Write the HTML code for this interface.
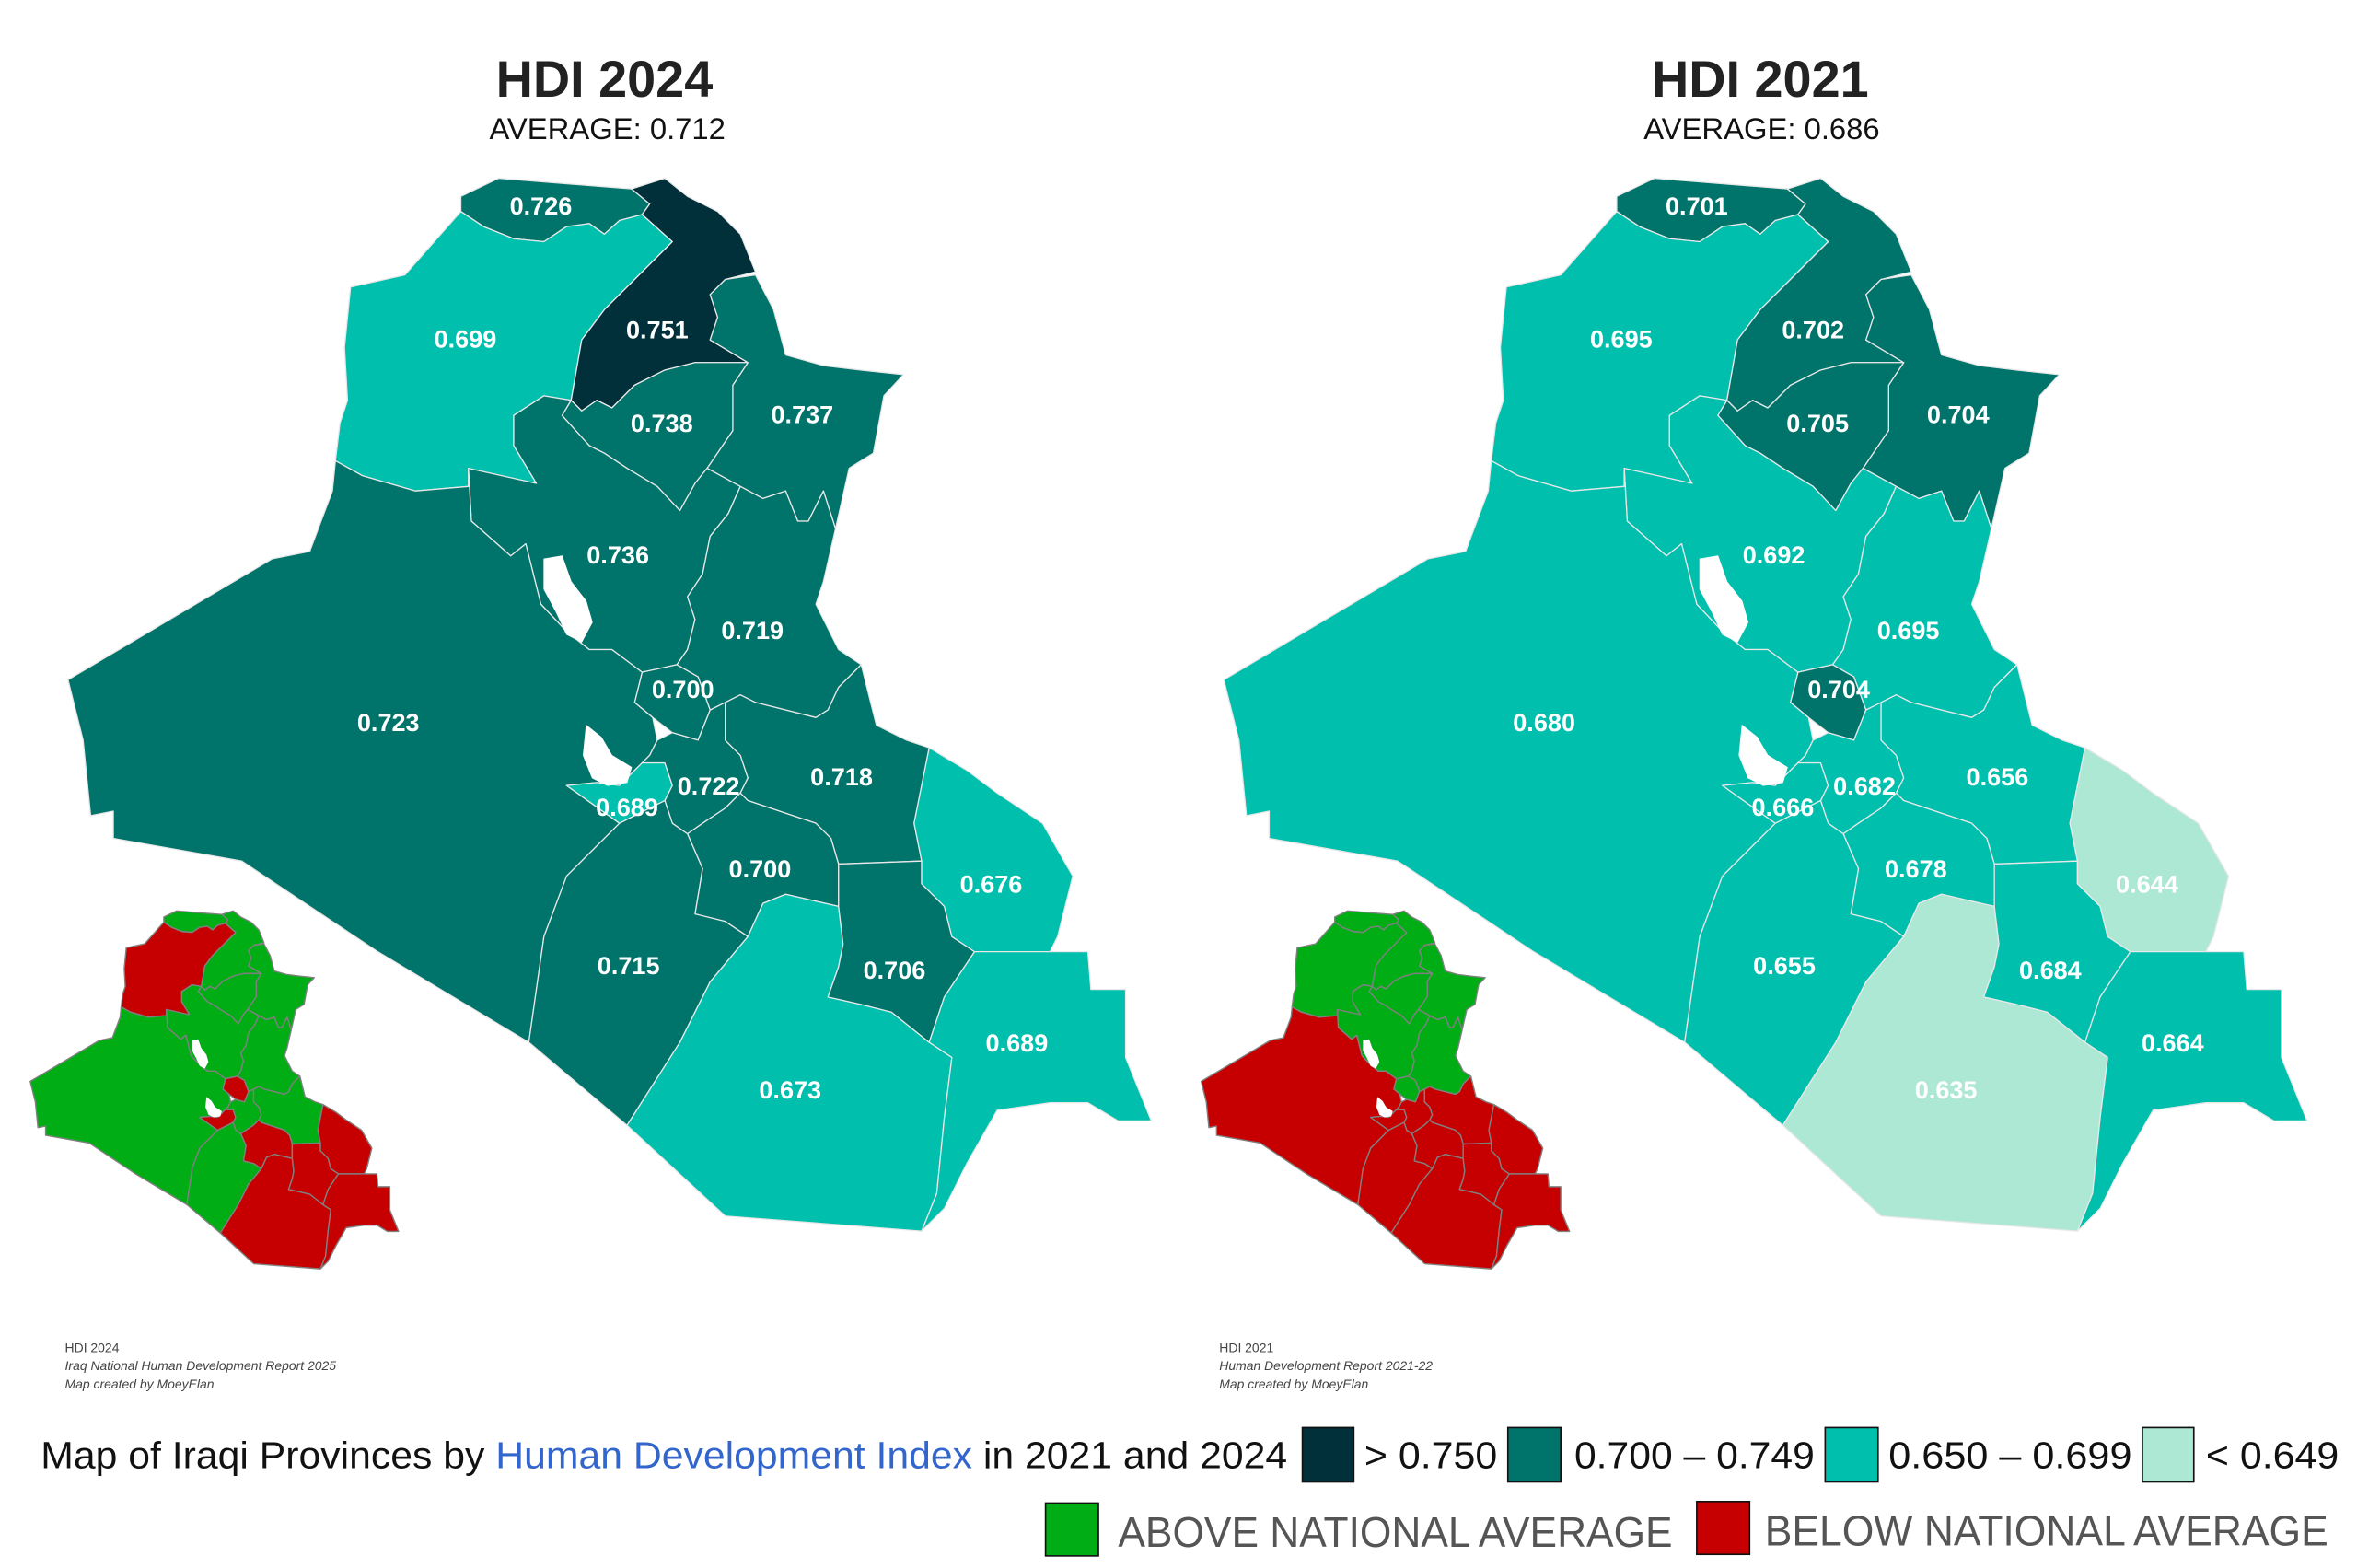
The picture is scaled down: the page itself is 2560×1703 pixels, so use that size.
<!DOCTYPE html>
<html><head><meta charset="utf-8"><title>HDI Iraq</title>
<style>html,body{margin:0;padding:0;background:#fff;}svg{display:block;}</style></head>
<body>
<svg id="chart" xmlns="http://www.w3.org/2000/svg" width="2560" height="1703" viewBox="0 0 1560 1038" preserveAspectRatio="none" font-family="'Liberation Sans', sans-serif">
<rect width="1560" height="1038" fill="#fff"/>
<text x="400" y="64" text-anchor="middle" font-size="34" font-weight="bold" fill="#222">HDI 2024</text>
<text x="402" y="92" text-anchor="middle" font-size="20" fill="#111">AVERAGE: 0.712</text>
<text x="1165" y="64" text-anchor="middle" font-size="34" font-weight="bold" fill="#222">HDI 2021</text>
<text x="1166" y="92" text-anchor="middle" font-size="20" fill="#111">AVERAGE: 0.686</text>
<g id="maps"></g>
<g font-size="8.5" fill="#444">
<text x="43" y="895">HDI 2024</text>
<text x="43" y="907" font-style="italic">Iraq National Human Development Report 2025</text>
<text x="43" y="919" font-style="italic">Map created by MoeyElan</text>
</g>
<g font-size="8.5" fill="#444">
<text x="807" y="895">HDI 2021</text>
<text x="807" y="907" font-style="italic">Human Development Report 2021-22</text>
<text x="807" y="919" font-style="italic">Map created by MoeyElan</text>
</g>
<text x="27" y="972" font-size="25" fill="#111" textLength="825" lengthAdjust="spacingAndGlyphs">Map of Iraqi Provinces by <tspan fill="#3366cc">Human Development Index</tspan> in 2021 and 2024</text>
<g font-size="25" fill="#111">
<rect x="862" y="945" width="34" height="36" fill="#01303a" stroke="#111" stroke-width="1"/>
<text x="903" y="972" textLength="88" lengthAdjust="spacingAndGlyphs">&gt; 0.750</text>
<rect x="998" y="945" width="35" height="36" fill="#00736a" stroke="#111" stroke-width="1"/>
<text x="1042" y="972" textLength="159" lengthAdjust="spacingAndGlyphs">0.700 – 0.749</text>
<rect x="1208" y="945" width="35" height="36" fill="#00bfad" stroke="#111" stroke-width="1"/>
<text x="1250" y="972" textLength="161" lengthAdjust="spacingAndGlyphs">0.650 – 0.699</text>
<rect x="1418" y="945" width="34" height="36" fill="#ade8d4" stroke="#111" stroke-width="1"/>
<text x="1460" y="972" textLength="88" lengthAdjust="spacingAndGlyphs">&lt; 0.649</text>
</g>
<g font-size="28" fill="#555">
<rect x="692" y="995" width="35" height="35" fill="#00ad14" stroke="#111" stroke-width="1"/>
<text x="740" y="1024" textLength="367" lengthAdjust="spacingAndGlyphs">ABOVE NATIONAL AVERAGE</text>
<rect x="1123" y="994" width="35" height="35" fill="#c60000" stroke="#111" stroke-width="1"/>
<text x="1168" y="1023" textLength="373" lengthAdjust="spacingAndGlyphs">BELOW NATIONAL AVERAGE</text>
</g>
</svg>
<script>
const provinces = ["duhok","nineveh","erbil","sulaymaniyah","kirkuk","salahuddin","diyala","baghdad","anbar","karbala","babylon","wasit","qadisiyah","najaf","muthanna","dhi-qar","maysan","basra"];
const hdi2024 = [0.726,0.699,0.751,0.737,0.738,0.736,0.719,0.700,0.723,0.689,0.722,0.718,0.700,0.715,0.673,0.706,0.676,0.689];
const hdi2021 = [0.701,0.695,0.702,0.704,0.705,0.692,0.695,0.704,0.680,0.666,0.682,0.656,0.678,0.655,0.635,0.684,0.644,0.664];
const averages = [0.712,0.686];

const shapes = {
duhok:"305,130 330,118 380,122 418,125 430,135 425,142 410,146 400,155 390,148 375,150 360,160 340,158 320,150 305,140",
nineveh:"305,140 320,150 340,158 360,160 375,150 390,148 400,155 410,146 425,142 445,160 420,185 400,205 385,225 378,265 360,262 340,275 340,295 355,320 310,322 275,325 240,315 222,305 225,280 230,265 228,230 232,190 268,182",
erbil:"418,125 440,118 455,130 475,140 490,155 500,180 480,185 470,195 475,210 470,225 495,240 460,240 440,245 420,255 405,270 395,265 385,272 378,265 385,225 400,205 420,185 445,160 425,142 430,135",
sulaymaniyah:"470,195 480,185 500,182 512,205 520,235 545,242 570,245 598,248 585,262 578,300 562,310 553,350 545,325 535,345 528,345 520,325 505,330 490,322 468,310 485,285 485,255 495,240 470,225 475,210",
kirkuk:"378,265 385,272 395,265 405,270 420,255 440,245 460,240 495,240 485,255 485,285 468,310 460,320 450,338 435,322 415,310 400,300 390,295 372,275",
salahuddin:"310,310 355,320 340,295 340,275 360,262 378,265 372,275 390,295 400,300 415,310 435,322 450,338 460,320 468,310 490,322 482,340 470,355 465,380 455,395 460,410 455,430 448,440 425,445 405,430 390,430 375,418 358,400 348,360 338,368 312,345",
diyala:"490,322 505,330 520,325 528,345 535,345 545,325 553,350 545,385 540,400 555,430 570,440 555,455 548,470 540,475 520,470 500,465 490,460 480,465 470,470 462,448 448,440 455,430 460,410 455,395 465,380 470,355 482,340",
baghdad:"425,445 448,440 462,448 470,470 462,490 445,485 432,475 420,465",
anbar:"45,450 180,370 205,365 220,325 222,305 240,315 275,325 310,322 310,310 312,345 338,368 348,360 358,400 375,418 390,430 405,430 425,445 420,465 432,475 435,490 430,500 425,505 410,520 395,518 375,520 410,545 375,580 360,620 350,690 250,630 160,570 75,555 75,537 60,540 55,490",
karbala:"375,520 395,518 410,520 425,505 440,505 445,520 440,530 410,545",
babylon:"435,490 445,485 462,490 470,470 480,465 480,490 490,500 495,515 490,525 480,535 465,545 455,552 445,545 440,530 445,520 440,505 425,505 430,500",
wasit:"480,465 490,460 500,465 520,470 540,475 548,470 555,455 570,440 580,480 600,490 615,495 610,520 605,545 610,570 555,572 550,555 540,545 525,540 510,535 495,530 490,525 495,515 490,500 480,490",
qadisiyah:"455,552 465,545 480,535 490,525 495,530 510,535 525,540 540,545 550,555 555,572 555,600 520,592 505,598 495,620 480,610 460,605 465,575",
najaf:"410,545 440,530 445,545 455,552 465,575 460,605 480,610 495,620 470,650 450,690 415,745 350,690 360,620 375,580",
muthanna:"415,745 450,690 470,650 495,620 505,598 520,592 555,600 558,625 555,640 548,660 570,665 590,670 615,690 630,700 625,740 620,790 610,815 480,805",
"dhi-qar":"555,572 610,570 610,585 625,600 630,620 645,630 625,660 615,690 590,670 570,665 548,660 555,640 558,625 555,600",
maysan:"615,495 640,510 660,525 690,545 710,580 700,620 695,630 665,630 645,630 630,620 625,600 610,585 610,570 605,545 610,520",
basra:"645,630 665,630 695,630 720,630 722,655 745,655 745,700 762,742 740,742 720,730 695,730 660,735 640,770 625,800 610,815 620,790 625,740 630,700 615,690 625,660"
};
const lakes = ["360,370 372,368 378,385 388,398 392,412 385,425 375,420 368,405 360,390","388,480 398,488 405,500 418,508 415,518 402,520 392,515 386,500"];
const labelPos = {duhok:[358,136],nineveh:[308,224],erbil:[435,218],sulaymaniyah:[531,274],kirkuk:[438,280],salahuddin:[409,367],diyala:[498,417],baghdad:[452,456],anbar:[257,478],karbala:[415,534],babylon:[469,520],wasit:[557,514],qadisiyah:[503,575],najaf:[416,639],muthanna:[523,721],"dhi-qar":[592,642],maysan:[656,585],basra:[673,690]};

const NS="http://www.w3.org/2000/svg";
function colorFor(v){ if(v>=0.750) return "#01303a"; if(v>=0.700) return "#00736a"; if(v>=0.650) return "#00bfad"; return "#ade8d4"; }
function mk(tag,attrs,parent){const e=document.createElementNS(NS,tag);for(const k in attrs)e.setAttribute(k,attrs[k]);parent.appendChild(e);return e;}
const maps=document.getElementById("maps");

function drawMap(values, dx, year){
  const g=mk("g",{transform:"translate("+dx+",0)"},maps);
  
  
  provinces.forEach((p,i)=>{
    const el=mk("polygon",{points:shapes[p],fill:colorFor(values[i]),stroke:"#e8e8e8","stroke-width":0.8,"stroke-linejoin":"round"},g);
    
    
  });
  lakes.forEach((l,i)=>{
    const el=mk("polygon",{points:l,fill:"#fff",stroke:"#fff","stroke-width":0.5},g);
    
    
  });
  provinces.forEach((p,i)=>{
    const t=mk("text",{x:labelPos[p][0],y:labelPos[p][1]+6,"text-anchor":"middle","font-size":16.5,"font-weight":"bold",fill:"#fff"},g);
    t.textContent=values[i].toFixed(3);
    
    
  });
}
function drawMini(values, avg, tx, year){
  const s=0.34;
  const g=mk("g",{transform:"translate("+tx+","+(603-118*s)+") scale("+s+")"},maps);
  
  
  provinces.forEach((p,i)=>{
    const el=mk("polygon",{points:shapes[p],fill:values[i]>=avg?"#00ad14":"#c60000",stroke:"#808080","stroke-width":2.5,"stroke-linejoin":"round"},g);
    
    
  });
  lakes.forEach((l,i)=>{
    const el=mk("polygon",{points:l,fill:"#fff"},g);
    
    
  });
}
drawMap(hdi2024,0,"2024");
drawMap(hdi2021,765,"2021");
drawMini(hdi2024,averages[0],20-45*0.34,"2024");
drawMini(hdi2021,averages[1],795-45*0.34,"2021");
</script>
</body></html>
